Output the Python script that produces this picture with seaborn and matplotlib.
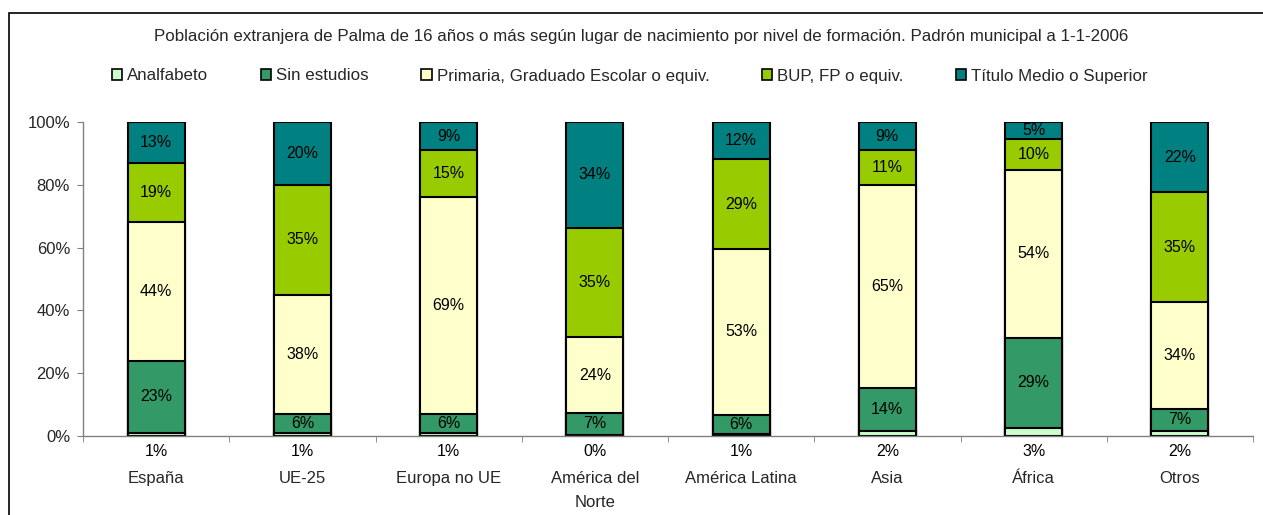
import numpy as np
import pandas as pd
import matplotlib
matplotlib.use("Agg")
import matplotlib.pyplot as plt
import seaborn as sns
from matplotlib.patches import Rectangle, Patch
from matplotlib.ticker import FuncFormatter

# datos (porcentajes por lugar de nacimiento)
lugares = ["España", "UE-25", "Europa no UE", "América del\nNorte",
           "América Latina", "Asia", "África", "Otros"]
niveles = ["Analfabeto", "Sin estudios", "Primaria, Graduado Escolar o equiv.",
           "BUP, FP o equiv.", "Título Medio o Superior"]
analfabeto = [1.0, 1.0, 1.0, 0.4, 0.7, 1.6, 2.6, 1.6]
sin_estudios = [23.0, 6.0, 6.0, 7.0, 6.1, 13.6, 28.6, 7.0]
primaria = [44.0, 38.0, 69.0, 24.0, 52.7, 64.6, 53.6, 34.0]
bup = [19.0, 35.0, 15.0, 35.0, 28.7, 11.2, 9.8, 35.0]
titulo = [13.0, 20.0, 9.0, 33.6, 11.8, 9.0, 5.4, 22.4]
colores = ["#CCFFCC", "#339966", "#FFFFCC", "#99CC00", "#008080"]
titulo_graf = ("Población extranjera de Palma de 16 años o más según lugar de "
               "nacimiento por nivel de formación. Padrón municipal a 1-1-2006")

df = pd.DataFrame({"lugar": lugares, niveles[0]: analfabeto, niveles[1]: sin_estudios,
                   niveles[2]: primaria, niveles[3]: bup, niveles[4]: titulo})
acum = df[niveles].cumsum(axis=1)

sns.set_style("white")
plt.rcParams["font.family"] = ["Liberation Sans", "DejaVu Sans"]

fig = plt.figure(figsize=(12.63, 5.15), dpi=100)
ax = fig.add_axes([83 / 1263, 79 / 515, (1253 - 83) / 1263, 314 / 515])

# barras apiladas: se dibuja el acumulado de mayor a menor
for j in range(len(niveles) - 1, -1, -1):
    tmp = pd.DataFrame({"lugar": df["lugar"], "valor": acum[niveles[j]]})
    sns.barplot(data=tmp, x="lugar", y="valor", order=lugares, color=colores[j],
                saturation=1, edgecolor="black", linewidth=1.5, width=0.39, ax=ax)

# etiquetas de valores
for i in range(len(lugares)):
    base = 0
    for j, niv in enumerate(niveles):
        v = df[niv].iloc[i]
        y = -4.8 if j == 0 else base + v / 2
        ax.text(i, y, f"{round(v):.0f}%", ha="center", va="center",
                fontsize=11.5, color="black", clip_on=False)
        base += v

ax.set_ylim(0, 100)
ax.set_xlim(-0.5, len(lugares) - 0.5)
ax.set_yticks([0, 20, 40, 60, 80, 100])
ax.yaxis.set_major_formatter(FuncFormatter(lambda v, p: f"{v:.0f}%"))
ax.set_xticks(range(len(lugares)))
ax.set_xticklabels(lugares, fontsize=12, linespacing=1.75)
ax.set_xticks(np.arange(-0.5, len(lugares), 1), minor=True)
ax.tick_params(axis="x", which="major", length=0, pad=25)
ax.tick_params(axis="x", which="minor", length=4.3, color="#808080", direction="out", bottom=True)
ax.tick_params(axis="y", length=4.3, color="#808080", direction="out", left=True,
               labelsize=12, pad=5)
ax.set_xlabel("")
ax.set_ylabel("")
for s in ["top", "right"]:
    ax.spines[s].set_visible(False)
for s in ["left", "bottom"]:
    ax.spines[s].set_color("#808080")
    ax.spines[s].set_linewidth(1)

fig.text(641 / 1263, 1 - 36 / 515, titulo_graf, ha="center", va="center", fontsize=12.2)

handles = [Patch(facecolor=c, edgecolor="black", linewidth=1.2) for c in colores]
fig.legend(handles, niveles, loc="center", bbox_to_anchor=(630 / 1263, 1 - 76 / 515),
           ncol=5, frameon=False, fontsize=12.2, handlelength=0.6, handleheight=0.6,
           handletextpad=0.3, columnspacing=3.1)

# marco exterior
fig.patches.append(Rectangle((9 / 1263, -0.1), 1.2, 1.1 - 13 / 515, transform=fig.transFigure,
                             fill=False, edgecolor="black", linewidth=1.2))

fig.savefig("out.png", dpi=100)
